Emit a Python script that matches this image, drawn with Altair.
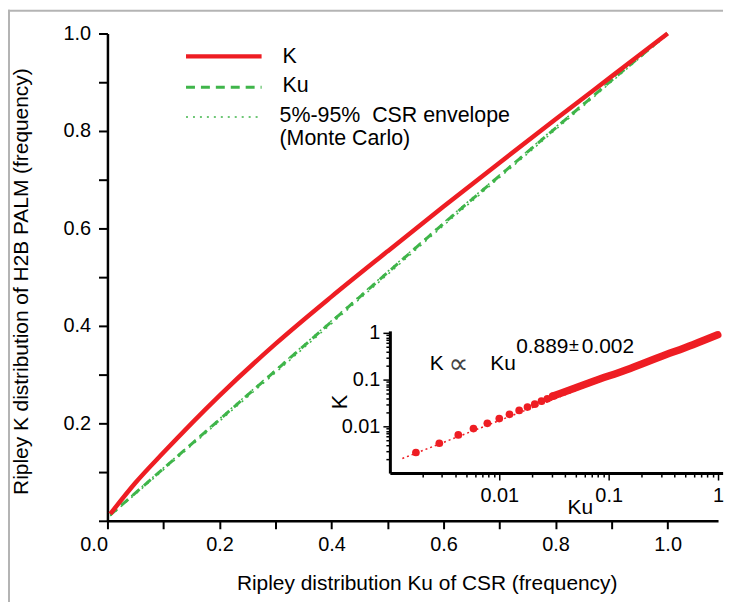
import altair as alt
import pandas as pd

FONT = "Liberation Sans"
RED = "#ee1d23"
GREEN = "#3fb54a"

# ---------------- main panel data ----------------
ku_grid = [0.005, 0.05, 0.1, 0.2, 0.3, 0.4, 0.5, 0.6, 0.7, 0.8, 0.9, 1.0]
k_obs = [0.014, 0.078, 0.140, 0.257, 0.363, 0.460, 0.553, 0.645, 0.735, 0.824, 0.912, 1.0]

ku_csr_x = [0.005, 0.3, 0.6, 0.9, 1.0]
ku_csr_y = [0.012, 0.308, 0.610, 0.904, 1.0]
env_lo = [0.010, 0.304, 0.606, 0.901, 0.998]
env_hi = [0.013, 0.310, 0.612, 0.906, 1.0]

main_x_ticks = [0.0, 0.1, 0.2, 0.3, 0.4, 0.5, 0.6, 0.7, 0.8, 0.9, 1.0]
main_y_ticks = [0.0, 0.1, 0.2, 0.3, 0.4, 0.5, 0.6, 0.7, 0.8, 0.9, 1.0]

# ---------------- inset data (log-log) ----------------
inset_ku_dots = [0.00173, 0.00283, 0.00422, 0.00581, 0.00778, 0.0100, 0.0124,
                 0.0152, 0.0181, 0.0211, 0.0243, 0.0275, 0.0308]
inset_k_dots = [0.00275, 0.00434, 0.00653, 0.00893, 0.0116, 0.0146, 0.0180,
                0.0219, 0.0258, 0.0298, 0.0345, 0.0388, 0.0441]
inset_ku_band = [0.0308, 0.0360, 0.0726, 0.146, 0.293, 0.589, 0.993]
inset_k_band = [0.0441, 0.0503, 0.0920, 0.163, 0.304, 0.556, 0.906]
fit_ku = [0.0013, 1.05]
fit_k = [0.00205, 0.94]

inset_ticks = [0.002, 0.003, 0.004, 0.005, 0.006, 0.007, 0.008, 0.009,
               0.01, 0.02, 0.03, 0.04, 0.05, 0.06, 0.07, 0.08, 0.09,
               0.1, 0.2, 0.3, 0.4, 0.5, 0.6, 0.7, 0.8, 0.9, 1.0]

W, H = 614, 490

main_df = pd.DataFrame({"x": ku_grid, "y": k_obs})
csr_df = pd.DataFrame({"x": ku_csr_x, "y": ku_csr_y})
env_df = pd.concat([
    pd.DataFrame({"x": ku_csr_x, "y": env_lo, "s": "lo"}),
    pd.DataFrame({"x": ku_csr_x, "y": env_hi, "s": "hi"}),
])

xs_main = alt.Scale(domain=[0, 1.09], nice=False, zero=False)
ys_main = alt.Scale(domain=[0, 1], nice=False, zero=False)

x_axis_main = alt.Axis(
    values=main_x_ticks,
    labelExpr="round(datum.value*10) % 2 == 0 ? format(datum.value, '.1f') : ''",
    labelAlign={"condition": {"test": "datum.value == 0", "value": "right"}, "value": "center"},
    title="Ripley distribution Ku of CSR (frequency)",
    titleX=321, titleY=69, titleBaseline="alphabetic", titleAnchor="middle",
    tickSize=8, labelPadding=6, grid=False,
)
y_axis_main = alt.Axis(
    values=main_y_ticks,
    labelExpr="round(datum.value*10) % 2 == 0 && datum.value > 0 ? format(datum.value, '.1f') : ''",
    title="Ripley K distribution of H2B PALM (frequency)",
    titleX=-80, titleY=249, titleAngle=-90, titleBaseline="alphabetic", titleAlign="center",
    tickSize=9, labelPadding=8, grid=False,
)

csr_line = alt.Chart(csr_df).mark_line(color=GREEN, strokeWidth=3, strokeDash=[9, 6]).encode(
    x=alt.X("x:Q", scale=xs_main, axis=x_axis_main),
    y=alt.Y("y:Q", scale=ys_main, axis=y_axis_main),
)
env_line = alt.Chart(env_df).mark_line(color=GREEN, strokeWidth=1.5, strokeDash=[2, 5]).encode(
    x="x:Q", y="y:Q", detail="s:N"
)
k_line = alt.Chart(main_df).mark_line(color=RED, strokeWidth=4.5, interpolate="monotone").encode(
    x="x:Q", y="y:Q"
)

one = pd.DataFrame({"a": [0]})

def hline(x1, x2, y, color, width, dash=None):
    kw = dict(color=color, strokeWidth=width)
    if dash:
        kw["strokeDash"] = dash
    return alt.Chart(one).mark_rule(**kw).encode(
        x=alt.value(x1), x2=alt.value(x2), y=alt.value(y))

def txt(s, x, y, size=21.5, font=FONT, color="black"):
    return alt.Chart(one).mark_text(text=s, align="left", baseline="alphabetic",
                                    fontSize=size, font=font, color=color).encode(
        x=alt.value(x), y=alt.value(y))

legend = [
    hline(79, 155, 23, RED, 4.5),
    hline(79, 155, 54, GREEN, 3, [9, 6]),
    hline(79, 155, 84, GREEN, 1.5, [2, 5]),
    txt("K", 176, 30),
    txt("Ku", 176, 59),
    txt("5%-95%\u00a0\u00a0CSR envelope", 173, 89),
    txt("(Monte Carlo)", 173, 112),
]

frame = [
    alt.Chart(one).mark_rule(color="#b4b4b4", strokeWidth=2).encode(
        x=alt.value(-99), y=alt.value(-24), y2=alt.value(580)),
    alt.Chart(one).mark_rule(color="#b4b4b4", strokeWidth=2).encode(
        x=alt.value(-100), x2=alt.value(619), y=alt.value(-23)),
]

main_layer = alt.layer(csr_line, env_line, k_line, *legend, *frame)

# ---------------- inset ----------------
xs_in = alt.Scale(type="log", domain=[0.001, 1.1], range=[284, 618.6], nice=False)
ys_in = alt.Scale(type="log", domain=[0.001, 1.1], range=[442, 299], nice=False)

major_test = "abs(log(datum.value)/LN10 - round(log(datum.value)/LN10)) < 0.001"
lab_expr = ("datum.value == 0.01 ? '0.01' : datum.value == 0.1 ? '0.1' : "
            "datum.value == 1 ? '1' : ''")

x_axis_in = alt.Axis(
    orient="bottom", offset=-48, values=inset_ticks, labelExpr=lab_expr,
    tickSize={"condition": {"test": major_test, "value": 7}, "value": 4},
    domainWidth=3, tickWidth=1.5, labelPadding=6, labelFontSize=20,
    title="Ku", titleX=475, titleY=41, titleBaseline="alphabetic", titleFontSize=21,
    grid=False,
)
y_axis_in = alt.Axis(
    orient="left", offset=-284, values=inset_ticks, labelExpr=lab_expr,
    tickSize={"condition": {"test": major_test, "value": 7}, "value": 4},
    domainWidth=3, tickWidth=1.5, labelPadding=3, labelFontSize=20,
    title="K", titleX=-44, titleY=370, titleAngle=-90, titleBaseline="alphabetic",
    titleAlign="center", titleFontSize=22, grid=False,
)

fit_df = pd.DataFrame({"x": fit_ku, "y": fit_k})
dots_df = pd.DataFrame({"x": inset_ku_dots, "y": inset_k_dots})
band_df = pd.DataFrame({"x": inset_ku_band, "y": inset_k_band})

fit_line = alt.Chart(fit_df).mark_line(color=RED, strokeWidth=1.5, strokeDash=[2, 3]).encode(
    x=alt.X("x:Q", scale=xs_in, axis=x_axis_in),
    y=alt.Y("y:Q", scale=ys_in, axis=y_axis_in),
)
dots = alt.Chart(dots_df).mark_circle(color=RED, size=60, opacity=1).encode(x="x:Q", y="y:Q")
band = alt.Chart(band_df).mark_line(color=RED, strokeWidth=7.5, strokeCap="round",
                                    interpolate="monotone").encode(x="x:Q", y="y:Q")

annot = [
    txt("K", 324, 338, size=21),
    txt("\u221d", 343, 341, size=28, font="DejaVu Sans", color="#444444"),
    txt("Ku", 385, 338, size=21),
    txt("0.889", 411, 321, size=21),
    txt("\u00b1", 464, 319, size=18),
    txt("0.002", 477, 321, size=21),
]

inset_layer = alt.layer(fit_line, band, dots, *annot)

chart = alt.layer(main_layer, inset_layer).resolve_scale(
    x="independent", y="independent"
).properties(
    width=W, height=H,
    padding={"left": 100, "top": 24, "right": 8, "bottom": 80},
    autosize=alt.AutoSizeParams(type="none"),
).configure_view(stroke=None).configure_axis(
    domainColor="black", tickColor="black", domainWidth=2.5, tickWidth=2,
    labelFont=FONT, titleFont=FONT, labelFontSize=20, titleFontSize=21,
    labelColor="black", titleColor="black", titleFontWeight="normal",
)

chart.save("out.html", embed_options={"renderer": "svg", "actions": False})
